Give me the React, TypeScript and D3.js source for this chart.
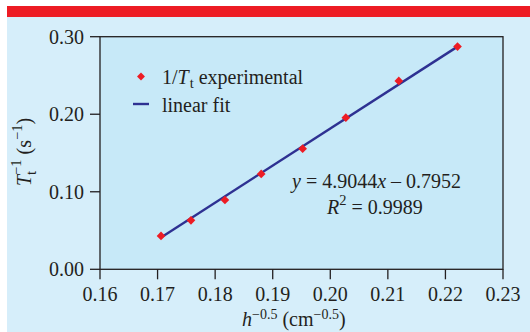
import React from 'react';
import * as d3 from 'd3';

// values
const xValues = [0.1706, 0.1758, 0.1817, 0.188, 0.1952, 0.2027, 0.2119, 0.2221];
const yValues = [0.043, 0.0632, 0.0894, 0.123, 0.1556, 0.1956, 0.243, 0.2872];
const fitX = [0.1706, 0.2221];
const fitY = [0.041, 0.2872];
const xTicks = [0.16, 0.17, 0.18, 0.19, 0.2, 0.21, 0.22, 0.23];
const yTicks = [0, 0.1, 0.2, 0.3];

const W = 530;
const H = 332;
const plot = { left: 100, right: 503, top: 36.7, bottom: 269.3 };
const font = '"Liberation Serif", "Times New Roman", serif';
const ink = '#231f20';

const App = () => {
  const x = d3.scaleLinear().domain([0.16, 0.23]).range([plot.left, plot.right]);
  const y = d3.scaleLinear().domain([0, 0.3]).range([plot.bottom, plot.top]);

  const points = xValues.map((v, i) => ({ x: v, y: yValues[i] }));
  const fit = fitX.map((v, i) => ({ x: v, y: fitY[i] }));
  const line = d3.line<{ x: number; y: number }>().x(d => x(d.x)).y(d => y(d.y));
  const diamond = d3.symbol().type(d3.symbolDiamond2).size(48)();
  const legendDiamond = d3.symbol().type(d3.symbolDiamond2).size(40)();

  return (
    <svg width={W} height={H} style={{ position: 'absolute', left: 0, top: 0 }} fontFamily={font}>
      <rect x={0} y={0} width={W} height={H} fill="#fff" />
      <rect x={7} y={17} width={W - 7} height={H - 17} fill="#d6eefa" />
      <rect x={7} y={6} width={W - 7} height={11} fill="#ed1c24" />
      <rect x={plot.left} y={plot.top} width={plot.right - plot.left} height={plot.bottom - plot.top}
        fill="#c7e9f8" stroke={ink} strokeWidth={1.3} />

      {/* x axis ticks */}
      {xTicks.map(t => (
        <g key={'x' + t}>
          <line x1={x(t)} x2={x(t)} y1={plot.bottom} y2={plot.bottom + 10} stroke={ink} strokeWidth={1.3} />
          <text x={x(t)} y={301} fontSize={20} textAnchor="middle" fill={ink}>{t.toFixed(2)}</text>
        </g>
      ))}
      {/* y axis ticks */}
      {yTicks.map(t => (
        <g key={'y' + t}>
          <line x1={plot.left - 10} x2={plot.left} y1={y(t)} y2={y(t)} stroke={ink} strokeWidth={1.3} />
          <text x={84} y={y(t) + 7} fontSize={20} textAnchor="end" fill={ink}>{t.toFixed(2)}</text>
        </g>
      ))}

      {/* axis titles */}
      <text x={242} y={326} fontSize={20} fill={ink}>
        <tspan fontStyle="italic">h</tspan>
        <tspan fontSize={14} dy={-7.5}>−0.5</tspan>
        <tspan dy={7.5}> (cm</tspan>
        <tspan fontSize={14} dy={-7.5}>−0.5</tspan>
        <tspan dy={7.5}>)</tspan>
      </text>
      <text transform="translate(31,152) rotate(-90)" fontSize={20} textAnchor="middle" fill={ink}>
        <tspan fontStyle="italic">T</tspan>
        <tspan fontSize={14.5} dy={5}>t</tspan>
        <tspan fontSize={14.5} dx={-4} dy={-15}>−1</tspan>
        <tspan dy={10}> (s</tspan>
        <tspan fontSize={14.5} dy={-9}>−1</tspan>
        <tspan dy={9}>)</tspan>
      </text>

      {/* fit and data */}
      <path d={line(fit) ?? ''} fill="none" stroke="#2e3192" strokeWidth={2.4} />
      {points.map((p, i) => (
        <path key={i} d={diamond ?? ''} transform={`translate(${x(p.x)},${y(p.y)})`} fill="#ed1c24" />
      ))}

      {/* legend */}
      <path d={legendDiamond ?? ''} transform="translate(141,76.5)" fill="#ed1c24" />
      <text x={162} y={84} fontSize={20} fill={ink}>
        1/<tspan fontStyle="italic">T</tspan>
        <tspan fontSize={14.5} dx={1} dy={4}>t</tspan>
        <tspan dy={-4}> experimental</tspan>
      </text>
      <line x1={133} x2={149} y1={104} y2={104} stroke="#2e3192" strokeWidth={2.4} />
      <text x={162} y={111.5} fontSize={20} fill={ink}>linear fit</text>

      {/* equation */}
      <text x={292} y={187.5} fontSize={20} fill={ink}>
        <tspan fontStyle="italic">y</tspan> = 4.9044<tspan fontStyle="italic">x</tspan> – 0.7952
      </text>
      <text x={327} y={214} fontSize={20} fill={ink}>
        <tspan fontStyle="italic">R</tspan>
        <tspan fontSize={14.5} dy={-9}>2</tspan>
        <tspan dy={9}> = 0.9989</tspan>
      </text>
    </svg>
  );
};

export default App;
